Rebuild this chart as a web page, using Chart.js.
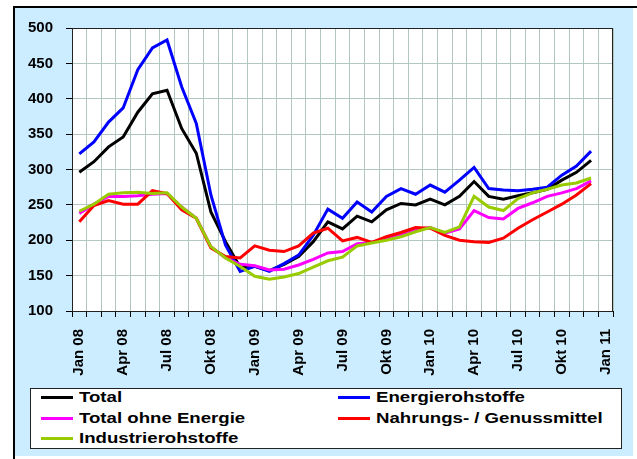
<!DOCTYPE html>
<html lang="de">
<head>
  <meta charset="UTF-8">
  <title>Rohstoffpreise</title>
  <script src="https://cdn.jsdelivr.net/npm/chart.js"></script>
  <style>
    body {
      margin: 0;
      width: 637px;
      height: 459px;
      overflow: hidden;
      background: #fff;
      font-family: "Liberation Sans", Arial, sans-serif;
    }
    #frame {
      position: absolute;
      left: 13px; top: 6px; right: 0; bottom: 0;
      border-top: 2px solid #000;
      border-left: 2px solid #000;
    }
    #bg {
      position: absolute;
      left: 15px; top: 8px;
      width: 618px; height: 448px;
      background: #ccecff;
    }
    canvas {
      position: absolute;
      left: 0; top: 0;
    }
    #legend {
      position: absolute;
      left: 30px; top: 388px;
      width: 592px; height: 61px;
      box-sizing: border-box;
      border: 1px solid #222;
      background: #fff;
    }
    .item { position: absolute; height: 14px; }
    .item .line { position: absolute; left: 0; top: 6px; width: 32px; height: 3px; }
    .item .txt {
      position: absolute; left: 38px; top: 0;
      font-size: 14px; line-height: 14px; font-weight: bold;
      white-space: nowrap;
      transform: scaleX(1.33); transform-origin: left center;
    }
  </style>
</head>
<body>
  <div id="frame"></div>
  <div id="bg"></div>
  <canvas id="chart" width="637" height="459"></canvas>
  <div id="legend"></div>

  <script>
    // Monate Jan 08 .. Jan 11 (Achse), Daten bis Dez 10
    const categories = [
      'Jan 08','Feb 08','Mär 08','Apr 08','Mai 08','Jun 08','Jul 08','Aug 08','Sep 08','Okt 08','Nov 08','Dez 08',
      'Jan 09','Feb 09','Mär 09','Apr 09','Mai 09','Jun 09','Jul 09','Aug 09','Sep 09','Okt 09','Nov 09','Dez 09',
      'Jan 10','Feb 10','Mär 10','Apr 10','Mai 10','Jun 10','Jul 10','Aug 10','Sep 10','Okt 10','Nov 10','Dez 10',
      'Jan 11'
    ];

    const total       = [296, 311, 332, 346, 381, 407, 412, 358, 323, 240, 198, 162, 163, 157, 166, 177, 198, 226, 216, 234, 226, 243, 252, 250, 258, 250, 262, 283, 262, 258, 263, 267, 272, 285, 296, 313];
    const energie     = [322, 339, 367, 387, 441, 472, 483, 417, 365, 264, 193, 156, 163, 156, 167, 179, 207, 244, 231, 254, 240, 262, 273, 265, 278, 268, 285, 303, 273, 271, 270, 272, 275, 292, 305, 326];
    const ohneEnergie = [238, 251, 262, 262, 263, 265, 266, 247, 231, 191, 175, 166, 164, 158, 159, 165, 173, 182, 184, 195, 197, 203, 207, 215, 218, 210, 216, 242, 232, 230, 245, 253, 262, 267, 273, 284];
    const nahrung     = [226, 249, 256, 251, 251, 270, 266, 243, 231, 189, 177, 175, 192, 186, 184, 192, 210, 217, 199, 204, 197, 205, 211, 218, 217, 207, 200, 198, 197, 203, 217, 229, 240, 251, 264, 280];
    const industrie   = [241, 251, 265, 267, 268, 266, 267, 247, 231, 191, 175, 163, 149, 145, 148, 153, 162, 171, 176, 192, 196, 200, 205, 212, 218, 211, 219, 262, 247, 242, 259, 267, 272, 278, 281, 288];

    const yTicks = [100, 150, 200, 250, 300, 350, 400, 450, 500];

    const series = [
      { label: 'Total', data: total, color: '#000000' },
      { label: 'Energierohstoffe', data: energie, color: '#0000ff' },
      { label: 'Total ohne Energie', data: ohneEnergie, color: '#ff00ff' },
      { label: 'Nahrungs-  / Genussmittel', data: nahrung, color: '#ff0000' },
      { label: 'Industrierohstoffe', data: industrie, color: '#99cc00' }
    ];

    const gridColor = '#b2c6c2';
    const font = '"Liberation Sans", Arial, sans-serif';

    // weisser Plotbereich + Rahmen
    const plotArea = {
      id: 'plotArea',
      beforeDraw(chart) {
        const { ctx, chartArea: a } = chart;
        ctx.save();
        ctx.fillStyle = '#fff';
        ctx.fillRect(a.left, a.top, a.right - a.left, a.bottom - a.top);
        ctx.restore();
      },
      afterDraw(chart) {
        const { ctx, chartArea: a } = chart;
        ctx.save();
        ctx.strokeStyle = '#222';
        ctx.lineWidth = 1;
        ctx.strokeRect(a.left + 0.5, a.top + 0.5, a.right - a.left - 1, a.bottom - a.top);
        ctx.restore();
      }
    };

    new Chart(document.getElementById('chart'), {
      type: 'line',
      data: {
        labels: categories,
        datasets: series.map((s, i) => ({
          label: s.label,
          data: s.data,
          borderColor: s.color,
          backgroundColor: s.color,
          borderWidth: 3,
          pointRadius: 0,
          tension: 0,
          order: series.length - i
        }))
      },
      options: {
        responsive: false,
        devicePixelRatio: 1,
        animation: false,
        layout: { padding: { left: 0, top: 28, right: 24, bottom: 78 } },
        plugins: {
          legend: { display: false },
          tooltip: { enabled: false }
        },
        scales: {
          x: {
            offset: true,
            grid: { offset: true, color: gridColor, tickColor: '#000', tickLength: 6, lineWidth: 1 },
            border: { color: '#000', width: 1 },
            ticks: {
              autoSkip: false,
              minRotation: 90,
              maxRotation: 90,
              padding: 12,
              color: '#000',
              font: { family: font, size: 15, weight: 'bold' },
              callback: (v, i) => (i % 3 === 0 ? categories[i] : '')
            },
            afterFit: s => { s.height = 70; }
          },
          y: {
            min: 100,
            max: 500,
            afterBuildTicks: s => { s.ticks = yTicks.map(v => ({ value: v })); },
            grid: { color: gridColor, tickColor: '#000', tickLength: 6, lineWidth: 1 },
            border: { color: '#000', width: 1 },
            ticks: {
              padding: 13,
              color: '#000',
              font: { family: font, size: 15, weight: 'bold' }
            },
            afterFit: s => { s.width = 72; }
          }
        }
      },
      plugins: [plotArea]
    });

    // Legende in zwei Spalten
    const legend = document.getElementById('legend');
    const cols = [10, 307];
    const rows = [1, 22, 42];
    series.forEach((s, i) => {
      const el = document.createElement('div');
      el.className = 'item';
      el.style.left = cols[i % 2] + 'px';
      el.style.top = rows[Math.floor(i / 2)] + 'px';
      el.innerHTML = '<div class="line" style="background:' + s.color + '"></div><div class="txt"></div>';
      el.querySelector('.txt').textContent = s.label;
      legend.appendChild(el);
    });
  </script>
</body>
</html>
